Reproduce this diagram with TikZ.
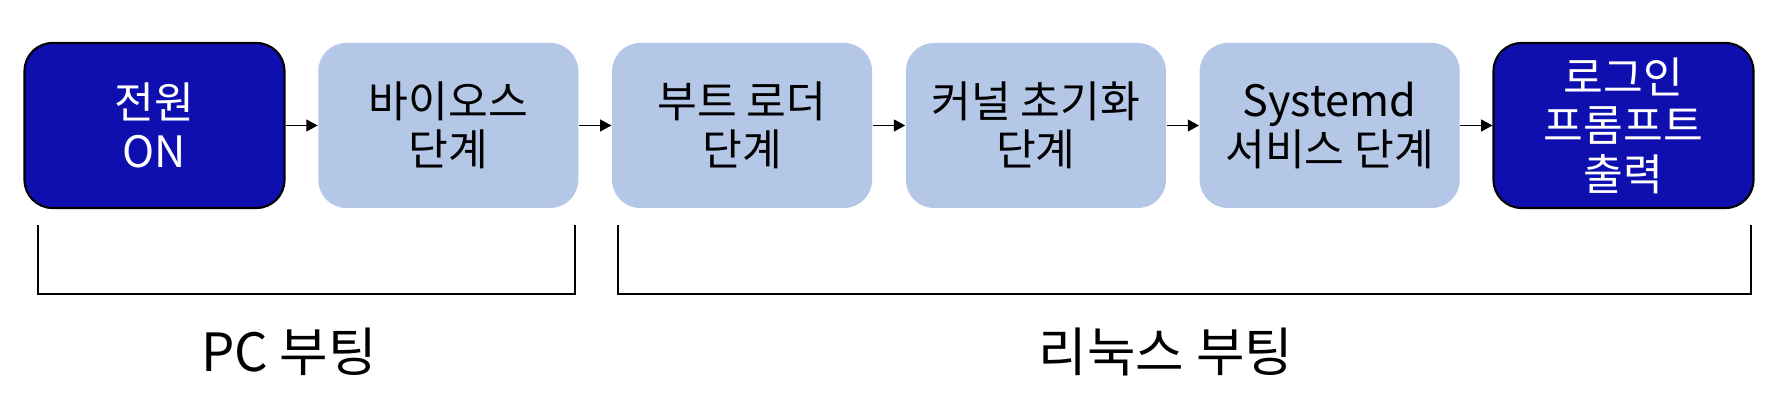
\documentclass[tikz,border=0pt]{standalone}
\usepackage{fontspec}
\setmainfont{Noto Sans CJK KR}
\usetikzlibrary{arrows.meta}
\definecolor{bootdark}{RGB}{15,15,176}
\definecolor{bootlight}{RGB}{180,199,231}
\tikzset{
  stagebox/.style={rounded corners=0.28cm, minimum width=2.6cm, minimum height=1.65cm, align=center, font=\fontsize{12.3}{13.8}\selectfont},
  darkbox/.style={stagebox, fill=bootdark, draw=black, line width=0.6pt, text=white},
  lightbox/.style={stagebox, fill=bootlight, text=black},
  flowarrow/.style={-{Triangle[length=3.2pt,width=3.4pt]}, line width=0.35pt},
  grouplabel/.style={font=\fontsize{15}{17}\selectfont}
}
\begin{document}
\begin{tikzpicture}
\useasboundingbox (0,0) rectangle (17.89,4.11);
\node[darkbox] (power) at (1.545,2.855) {전원\\ON};
\node[lightbox] (bios) at (4.483,2.855) {바이오스\\단계};
\node[lightbox] (loader) at (7.421,2.855) {부트 로더\\단계};
\node[lightbox] (kernel) at (10.359,2.855) {커널 초기화\\단계};
\node[lightbox] (systemd) at (13.297,2.855) {Systemd\\서비스 단계};
\node[darkbox] (login) at (16.235,2.855) {로그인\\프롬프트\\출력};
\draw[flowarrow] (power) -- (bios);
\draw[flowarrow] (bios) -- (loader);
\draw[flowarrow] (loader) -- (kernel);
\draw[flowarrow] (kernel) -- (systemd);
\draw[flowarrow] (systemd) -- (login);
% brackets under the stages
\draw[line width=0.4pt] (0.38,1.86) -- (0.38,1.17) -- (5.75,1.17) -- (5.75,1.86);
\draw[line width=0.4pt] (6.18,1.86) -- (6.18,1.17) -- (17.51,1.17) -- (17.51,1.86);
\node[grouplabel] (pcboot) at (2.89,0.59) {PC 부팅};
\node[grouplabel] (linuxboot) at (11.66,0.59) {리눅스 부팅};
\end{tikzpicture}
\end{document}
